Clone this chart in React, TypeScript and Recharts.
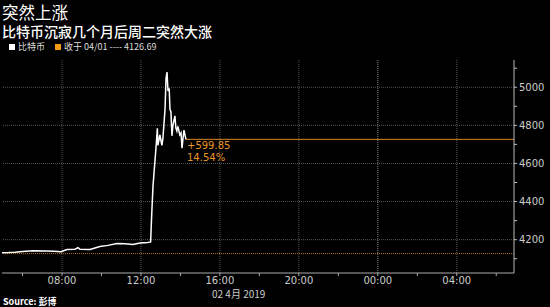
import React from "react";
import { LineChart, Line, XAxis, YAxis, ReferenceLine } from "recharts";

// hours since 00:00 on 02 Apr (values > 24 are the next day)
const times = [
  4.96, 5.3, 5.62, 6.0, 6.53, 7.14, 7.6, 7.95, 8.25, 8.66, 8.81, 8.91, 9.42, 9.92,
  10.33, 10.78, 11.19, 11.59, 11.95, 12.35, 12.49, 12.54, 12.61, 12.76, 12.83,
  12.86, 12.96, 13.06, 13.11, 13.22, 13.27, 13.32, 13.37, 13.43, 13.47, 13.52,
  13.57, 13.62, 13.72, 13.77, 13.82, 13.87, 13.97, 14.03, 14.08, 14.13, 14.18,
  14.23, 14.28,
];
const prices = [
  4131, 4132, 4134, 4138, 4142, 4140, 4139, 4137, 4148, 4150, 4158, 4149, 4148,
  4164, 4170, 4180, 4178, 4175, 4182, 4185, 4188, 4320, 4480, 4680, 4785, 4695,
  4750, 4695, 4730, 4885, 5045, 5080, 4980, 4995, 4885, 4870, 4745, 4800, 4850,
  4785, 4770, 4795, 4750, 4760, 4680, 4730, 4775, 4750, 4726.54,
];

const prevClose = 4126.69;
const lastPrice = 4726.54;
const change = "+599.85";
const changePct = "14.54%";

const xTicks = [6, 8, 10, 12, 14, 16, 18, 20, 22, 24, 26, 28, 30];
const xMajor = [8, 12, 16, 20, 24, 28];
const yTicks = [4100, 4200, 4300, 4400, 4500, 4600, 4700, 4800, 4900, 5000, 5100];
const yMajor = [4200, 4400, 4600, 4800, 5000];

const data = times.map((t, i) => ({ t, price: prices[i] }));

const fmtHour = (h: number) => {
  if (!xMajor.includes(h)) return "";
  const hh = h % 24;
  return `${hh < 10 ? "0" : ""}${hh}:00`;
};

const CJK = '"Noto Sans CJK SC", "Noto Sans", sans-serif';

export default function App() {
  return (
    <div
      style={{
        position: "absolute",
        left: 0,
        top: 0,
        width: 550,
        height: 307,
        background: "#000",
        fontFamily: CJK,
        overflow: "hidden",
      }}
    >
      <div style={{ position: "absolute", left: 2, top: 3, fontSize: 16.5, color: "#fff", lineHeight: "18px" }}>
        突然上涨
      </div>
      <div style={{ position: "absolute", left: 2, top: 23, fontSize: 14, color: "#fff", lineHeight: "16px", fontWeight: 500 }}>
        比特币沉寂几个月后周二突然大涨
      </div>
      <div
        style={{
          position: "absolute",
          left: 9,
          top: 41,
          fontSize: 9,
          color: "#ddd",
          lineHeight: "12px",
          display: "flex",
          alignItems: "center",
        }}
      >
        <span style={{ width: 6, height: 6, background: "#fff", marginRight: 3 }} />
        <span>比特币</span>
        <span style={{ width: 6, height: 6, background: "#f39c12", marginLeft: 10, marginRight: 3 }} />
        <span>收于 04/01 ---- 4126.69</span>
      </div>

      <LineChart
        width={550}
        height={307}
        data={data}
        margin={{ top: 60, right: 0, left: 2, bottom: 14 }}
        style={{ position: "absolute", left: 0, top: 0 }}
      >
        <XAxis
          dataKey="t"
          type="number"
          domain={[4.96, 30.9]}
          ticks={xTicks}
          tickFormatter={fmtHour}
          interval={0}
          stroke="#aaa"
          tickSize={3}
          tickMargin={1}
          height={20}
          tick={{ fill: "#ccc", fontSize: 10, fontFamily: "DejaVu Sans" }}
        />
        <YAxis
          orientation="right"
          type="number"
          domain={[4025, 5143]}
          ticks={yTicks}
          interval={0}
          tickFormatter={(v: number) => (yMajor.includes(v) ? String(v) : "")}
          stroke="#bbb"
          tickSize={3}
          width={36}
          tick={{ fill: "#ccc", fontSize: 10, fontFamily: "DejaVu Sans" }}
        />
        {xMajor.map((h) => (
          <ReferenceLine
            key={`vx-${h}`}
            x={h}
            stroke={h === 24 ? "#888" : "#555"}
            strokeDasharray="1 1"
          />
        ))}
        {yMajor.map((v) => (
          <ReferenceLine key={`hy-${v}`} y={v} stroke="#555" strokeDasharray="1 1" />
        ))}
        <ReferenceLine y={prevClose} stroke="#b8731f" strokeDasharray="1 1" />
        <ReferenceLine
          segment={[
            { x: 14.28, y: lastPrice },
            { x: 30.9, y: lastPrice },
          ]}
          stroke="#d4881f"
          strokeWidth={1}
        />
        <Line
          type="linear"
          dataKey="price"
          stroke="#fff"
          strokeWidth={1.5}
          dot={false}
          isAnimationActive={false}
        />
      </LineChart>

      <div
        style={{
          position: "absolute",
          left: 187,
          top: 140,
          fontSize: 10,
          color: "#e8962a",
          lineHeight: "12px",
          fontFamily: "DejaVu Sans",
        }}
      >
        <div>{change}</div>
        <div>{changePct}</div>
      </div>
      <div
        style={{
          position: "absolute",
          left: 212,
          top: 289,
          fontSize: 10,
          color: "#ccc",
          lineHeight: "10px",
        }}
      >
        02 4月 2019
      </div>
      <div
        style={{
          position: "absolute",
          left: 3,
          top: 297,
          fontSize: 9,
          color: "#fff",
          lineHeight: "10px",
          fontWeight: 700,
        }}
      >
        Source: 彭博
      </div>
    </div>
  );
}
